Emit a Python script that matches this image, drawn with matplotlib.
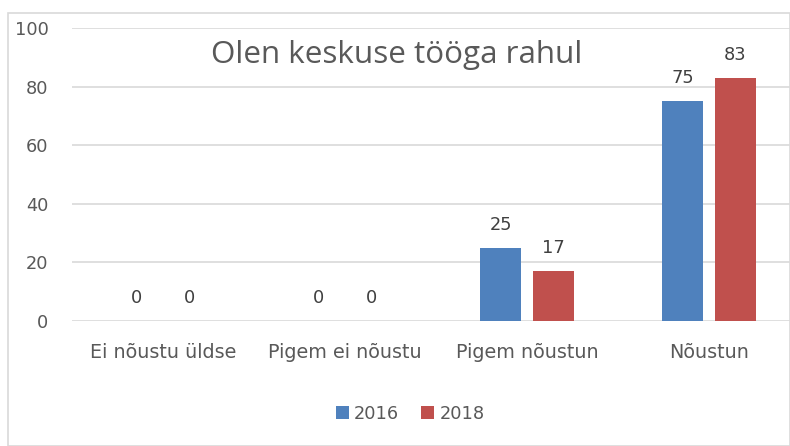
import matplotlib.pyplot as plt
from matplotlib.patches import Rectangle
import numpy as np

plt.rcParams['font.family'] = ['DejaVu Sans']

categories = ['Ei nõustu üldse', 'Pigem ei nõustu', 'Pigem nõustun', 'Nõustun']
values_2016 = [0, 0, 25, 75]
values_2018 = [0, 0, 17, 83]
years = ['2016', '2018']
colors = ['#4F81BD', '#C0504D']
title = 'Olen keskuse tööga rahul'

W, H = 790, 446
fig = plt.figure(figsize=(W / 100, H / 100), dpi=100)
fig.patches.append(Rectangle((8 / W, 0), (W - 8) / W, (H - 13) / H,
                             transform=fig.transFigure, fill=False,
                             edgecolor='#D9D9D9', linewidth=1.2))

# axes extends past the right edge like in the original screenshot
ax = fig.add_axes([72 / W, 1 - 321 / H, 728 / W, 293 / H])

x = np.arange(len(categories))
width = 0.225
offset = 0.143
for vals, off, col, lab in [(values_2016, -offset, colors[0], years[0]),
                            (values_2018, offset, colors[1], years[1])]:
    bars = ax.bar(x + off, vals, width, color=col, label=lab, zorder=3)
    for b, v in zip(bars, vals):
        ax.text(b.get_x() + b.get_width() / 2, v + 6.1, str(v), ha='center',
                va='baseline', fontsize=12.8, color='#404040')

ax.set_xlim(-0.5, 3.5)
ax.set_ylim(0, 100)
ax.set_yticks(range(0, 101, 20))
ax.set_xticks(x)
ax.set_xticklabels(categories)
ax.tick_params(axis='both', length=0, labelsize=12.8, colors='#595959')
ax.tick_params(axis='x', pad=16, labelsize=13.8)
ax.tick_params(axis='y', pad=17)
ax.grid(axis='y', color='#D9D9D9', linewidth=1.2, zorder=0)
for s in ax.spines.values():
    s.set_visible(False)

fig.text(397 / W, 1 - 63 / H, title, ha='center', va='baseline',
         fontsize=22.6, color='#595959', family='Open Sans')

handles, labels = ax.get_legend_handles_labels()
fig.legend(handles, labels, loc='center', bbox_to_anchor=(410 / W, 1 - 414 / H),
           ncol=2, frameon=False, fontsize=12.8, labelcolor='#595959',
           handlelength=0.75, handleheight=0.75, handletextpad=0.3,
           columnspacing=1.2)

plt.savefig('out.png', dpi=100)
